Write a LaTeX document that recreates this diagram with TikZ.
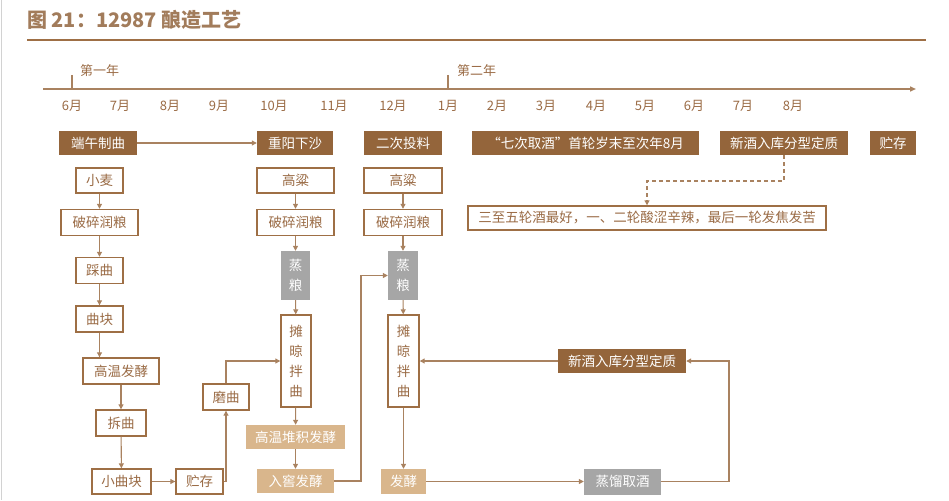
\documentclass[tikz,border=0pt]{standalone}
\usepackage{fontspec}
\setmainfont{Noto Sans CJK SC}
\usetikzlibrary{arrows.meta}
\definecolor{dbrown}{HTML}{94653B}
\definecolor{bbrown}{HTML}{9E6F45}
\definecolor{tbrown}{HTML}{9A6B45}
\definecolor{lbrown}{HTML}{A98260}
\definecolor{tan}{HTML}{D9B68C}
\definecolor{greybox}{HTML}{A6A6A6}
\definecolor{titlec}{HTML}{A27C5B}
\tikzset{
  basebox/.style={inner sep=0pt, font=\fontsize{13.5}{20}\selectfont, align=center},
  darkbox/.style={basebox, fill=dbrown, text=white, minimum height=24pt},
  whitebox/.style={basebox, draw=bbrown, line width=1.4pt, fill=white, text=tbrown},
  tanbox/.style={basebox, fill=tan, text=white},
  greyb/.style={basebox, fill=greybox, text=white},
  conn/.style={draw=lbrown, line width=1.1pt, -{Triangle[length=5pt,width=5pt]}},
  monthlbl/.style={font=\fontsize{13}{15}\selectfont, text=tbrown, inner sep=0pt},
}
\begin{document}
\begin{tikzpicture}[x=1pt,y=-1pt]
\useasboundingbox (0,0) rectangle (949,500);
% page border
\draw[gray!35, line width=0.8pt] (1.5,0) -- (1.5,500);
% title
\node[anchor=west, inner sep=0pt, text=titlec, font=\fontsize{20}{22}\selectfont\bfseries] (title) at (27,20) {图 21：12987 酿造工艺};
\draw[bbrown, line width=1.5pt] (27,40) -- (926,40);
% timeline
\coordinate (t0) at (43,89);
\coordinate (t1) at (916,89);
\draw[lbrown, line width=1.6pt, -{Triangle[length=6pt,width=5pt]}] (t0) -- (t1);
\draw[lbrown, line width=1.4pt] (72,75) -- (72,89);
\draw[lbrown, line width=1.4pt] (448,75) -- (448,89);
\node[monthlbl, anchor=west] (y1) at (80,71) {第一年};
\node[monthlbl, anchor=west] (y2) at (457,71) {第二年};
\foreach \x/\m [count=\i] in {72/6月,120/7月,170/8月,219/9月,274/10月,334/11月,393/12月,448/1月,497/2月,546/3月,596/4月,645/5月,694/6月,743/7月,793/8月}
  \node[monthlbl] (m\i) at (\x,106) {\m};
% top row
\node[darkbox, minimum width=78pt] (d1) at (98,143) {端午制曲};
\node[darkbox, minimum width=76pt] (d2) at (295,143) {重阳下沙};
\node[darkbox, minimum width=78pt] (d3) at (403,143) {二次投料};
\node[darkbox, minimum width=227pt] (d4) at (585.5,143) {“七次取酒”首轮岁末至次年8月};
\node[darkbox, minimum width=128pt] (d5) at (784,143) {新酒入库分型定质};
\node[darkbox, minimum width=46pt] (d6) at (893,143) {贮存};
\draw[conn] (d1) -- (d2);
% note
\node[whitebox, minimum width=358pt, minimum height=24pt] (n1) at (647,218) {三至五轮酒最好，一、二轮酸涩辛辣，最后一轮发焦发苦};
\coordinate (k3) at (784,181);
\draw[conn, dash pattern=on 4pt off 3pt] (d5.south) -- (k3) -| (n1.north);
% column 1
\node[whitebox, minimum width=47pt, minimum height=25pt] (a1) at (99.5,180.5) {小麦};
\node[whitebox, minimum width=77pt, minimum height=26pt] (a2) at (99.5,222.5) {破碎润粮};
\node[whitebox, minimum width=47pt, minimum height=26pt] (a3) at (99.5,270.5) {踩曲};
\node[whitebox, minimum width=47pt, minimum height=26pt] (a4) at (99.5,319) {曲块};
\node[whitebox, minimum width=76pt, minimum height=26pt] (a5) at (121,371) {高温发酵};
\node[whitebox, minimum width=50pt, minimum height=26pt] (a6) at (121,423) {拆曲};
\node[whitebox, minimum width=59pt, minimum height=25pt] (a7) at (121.5,481.5) {小曲块};
\node[whitebox, minimum width=47pt, minimum height=25pt] (a8) at (199.5,481.5) {贮存};
\node[whitebox, minimum width=46pt, minimum height=26pt] (a9) at (226,397) {磨曲};
\draw[conn] (a1) -- (a2);
\draw[conn] (a2) -- (a3);
\draw[conn] (a3) -- (a4);
\draw[conn] (a4.south) -- (a4.south |- a5.north);
\draw[conn] (a5) -- (a6);
\draw[conn] (a6) -- (a7);
\draw[conn] (a7) -- (a8);
\draw[conn] (a8.east) -| (a9.south);
% column 2
\node[whitebox, minimum width=77pt, minimum height=25pt] (b1) at (295.5,180.5) {高粱};
\node[whitebox, minimum width=77pt, minimum height=26pt] (b2) at (295.5,222.5) {破碎润粮};
\node[greyb, minimum width=29pt, minimum height=49pt] (b3) at (295.5,275.5) {蒸\\粮};
\node[whitebox, minimum width=30pt, minimum height=92pt] (b4) at (296,361) {摊\\晾\\拌\\曲};
\node[tanbox, minimum width=99pt, minimum height=24pt] (b5) at (295.5,437) {高温堆积发酵};
\node[tanbox, minimum width=77pt, minimum height=24pt] (b6) at (295.5,481) {入窖发酵};
\draw[conn] (b1) -- (b2);
\draw[conn] (b2) -- (b3);
\draw[conn] (b3) -- (b4);
\draw[conn] (b4) -- (b5);
\draw[conn] (b5) -- (b6);
\draw[conn] (a9.north) |- (b4.west);
% column 3
\node[whitebox, minimum width=78pt, minimum height=25pt] (c1) at (403,180.5) {高粱};
\node[whitebox, minimum width=78pt, minimum height=26pt] (c2) at (403,222.5) {破碎润粮};
\node[greyb, minimum width=30pt, minimum height=49pt] (c3) at (403,275.5) {蒸\\粮};
\node[whitebox, minimum width=31pt, minimum height=92pt] (c4) at (403.5,361) {摊\\晾\\拌\\曲};
\node[tanbox, minimum width=45pt, minimum height=25pt] (c5) at (403.5,481.5) {发酵};
\node[greyb, minimum width=77pt, minimum height=26pt] (c6) at (622.5,481.5) {蒸馏取酒};
\node[darkbox, minimum width=128pt] (c7) at (622,361) {新酒入库分型定质};
\draw[conn] (c1) -- (c2);
\draw[conn] (c2) -- (c3);
\draw[conn] (c3) -- (c4);
\draw[conn] (c4) -- (c5);
\draw[conn] (c5) -- (c6);
\coordinate (k1) at (361,481);
\draw[conn] (b6.east) -- (k1) |- (c3.west);
\coordinate (k2) at (729,481.5);
\draw[conn] (c6.east) -- (k2) |- (c7.east);
\draw[conn] (c7.west) -- (c4.east);
\end{tikzpicture}
\end{document}
